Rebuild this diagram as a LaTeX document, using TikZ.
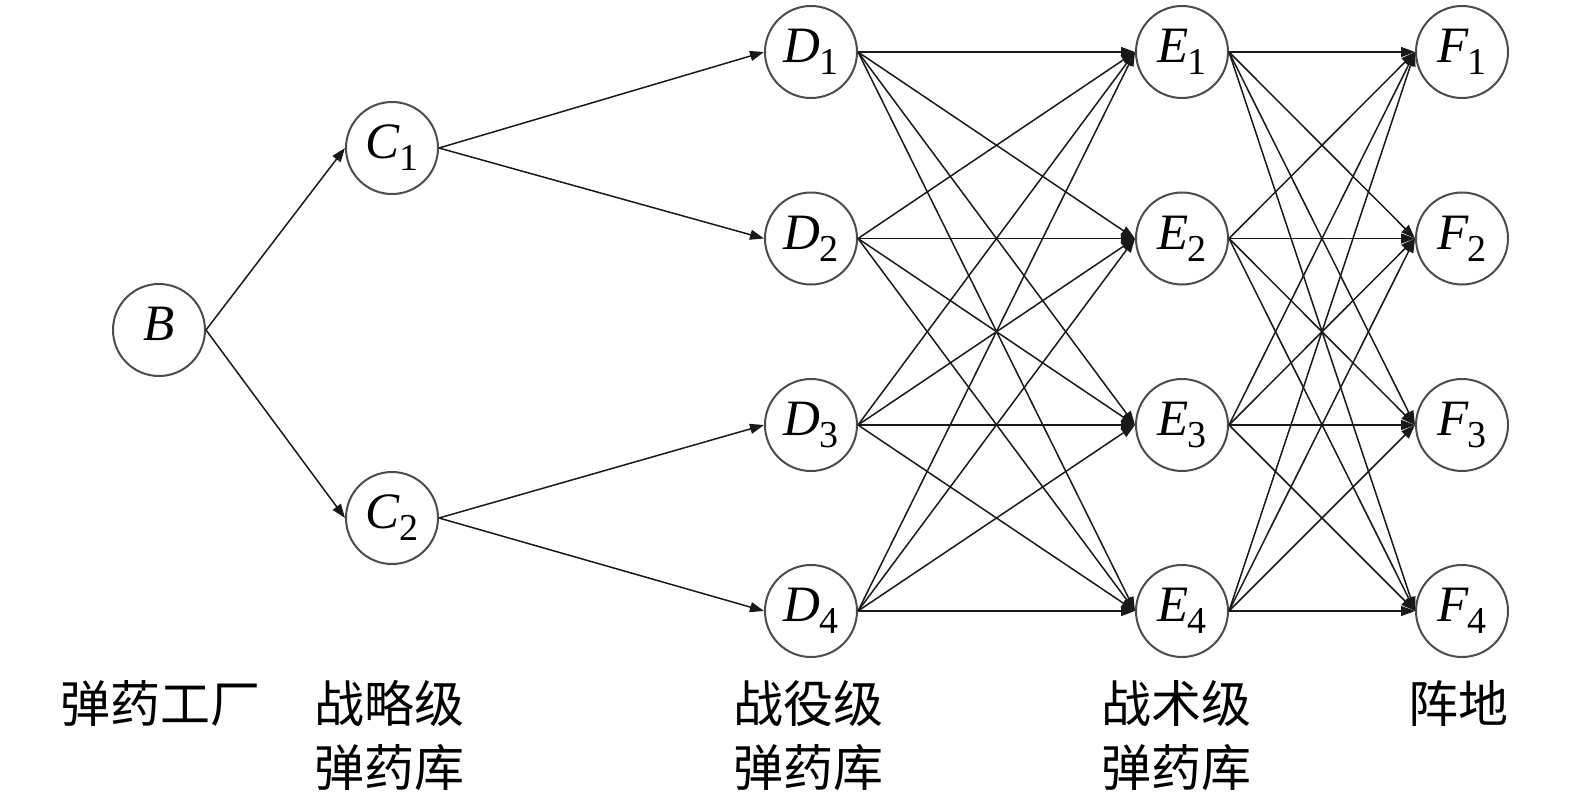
\documentclass[tikz,border=0pt]{standalone}
\usepackage{fontspec}
\setmainfont{Liberation Serif}
\newfontfamily\cjk{Noto Sans CJK SC}
\usetikzlibrary{arrows.meta}
\newcommand\lab[2]{{\fontsize{51}{51}\selectfont\itshape #1}\kern-1pt\raisebox{-12pt}{\fontsize{38}{38}\selectfont #2}}
\tikzset{
  st/.style={circle, draw=black!70, line width=2pt, minimum size=92pt, inner sep=0pt, fill=white},
  ar/.style={line width=1.5pt, draw=black!90, -{Triangle[length=14pt,width=10pt]}, shorten >=0pt},
  captext/.style={font=\cjk\fontsize{50}{64}\selectfont, align=center, anchor=north, inner sep=0pt}
}
\begin{document}
\begin{tikzpicture}[x=1pt,y=-1pt]
\useasboundingbox (0,0) rectangle (1575,800);
\node[st] (B) at (159,330) {\lab{B}{}};
\node[st] (C1) at (392,148) {\lab{C}{1}};
\node[st] (C2) at (392,518) {\lab{C}{2}};
\foreach \i/\y in {1/52,2/238.5,3/425,4/611}{
  \node[st] (D\i) at (811,\y) {\lab{D}{\i}};
  \node[st] (E\i) at (1182,\y) {\lab{E}{\i}};
  \node[st] (F\i) at (1462,\y) {\lab{F}{\i}};
}
\draw[ar] (B.east) -- (C1.west);
\draw[ar] (B.east) -- (C2.west);
\draw[ar] (C1.east) -- (D1.west);
\draw[ar] (C1.east) -- (D2.west);
\draw[ar] (C2.east) -- (D3.west);
\draw[ar] (C2.east) -- (D4.west);
\foreach \i in {1,...,4}{
  \foreach \j in {1,...,4}{
    \draw[ar] (D\i.east) -- (E\j.west);
    \draw[ar] (E\i.east) -- (F\j.west);
  }
}
\node[captext] (L1) at (160,680) {弹药工厂};
\node[captext] (L2) at (389,680) {战略级\\弹药库};
\node[captext] (L3) at (808,680) {战役级\\弹药库};
\node[captext] (L4) at (1176,680) {战术级\\弹药库};
\node[captext] (L5) at (1458,680) {阵地};
\end{tikzpicture}
\end{document}
